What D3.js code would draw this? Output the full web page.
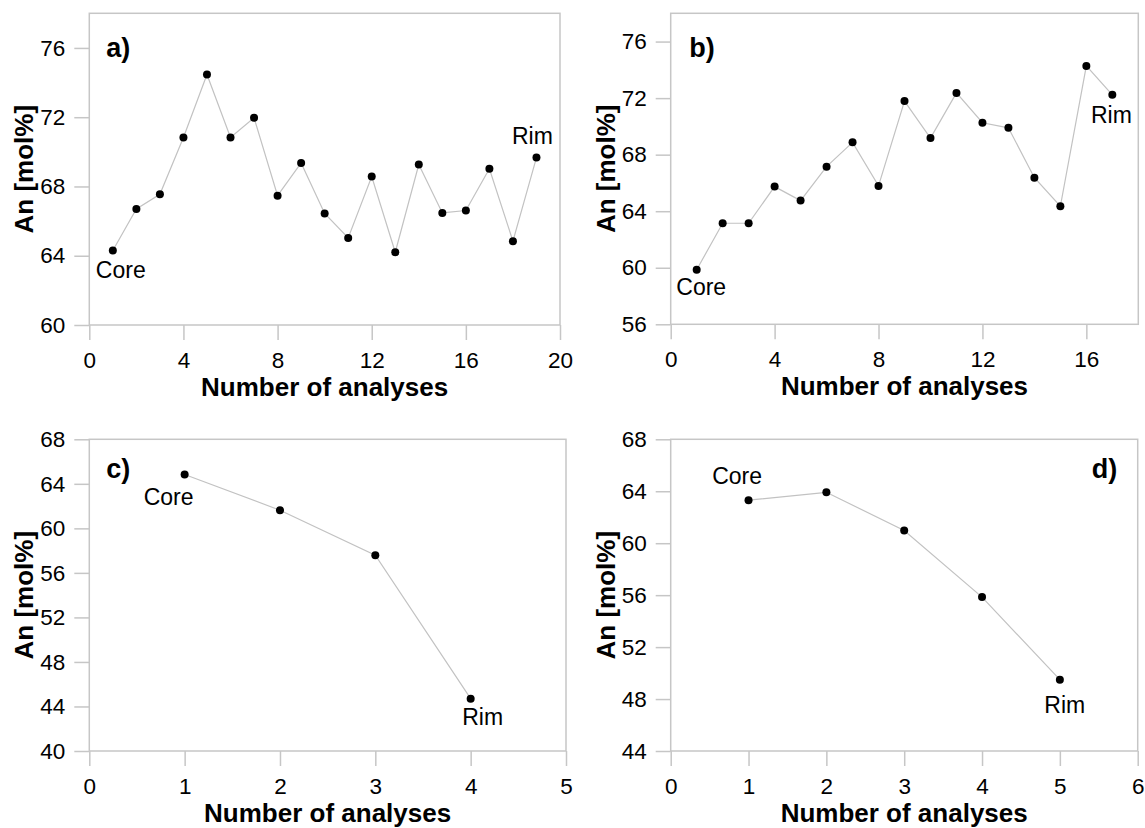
<!DOCTYPE html>
<html>
<head>
<meta charset="utf-8">
<script src="https://cdn.jsdelivr.net/npm/d3@7"></script>
<style>
  body { margin: 0; background: #fff; }
  svg text { font-family: "Liberation Sans", Arial, sans-serif; fill: #000; }
</style>
</head>
<body>
<svg id="chart" width="1145" height="828"></svg>
<script>
// An content (mol%) along each profile, analysis 1 = core, last = rim
var anA = [64.3, 66.7, 67.55, 70.83, 74.47, 70.83, 71.97, 67.47, 69.36, 66.44,
           65.03, 68.57, 64.2, 69.27, 66.47, 66.61, 69.02, 64.84, 69.67];
var anB = [59.86, 63.15, 63.15, 65.74, 64.75, 67.15, 68.87, 65.79, 71.79, 69.17,
           72.37, 70.26, 69.9, 66.37, 64.35, 74.28, 72.23];
var anC = [64.84, 61.63, 57.59, 44.7];
var anD = [63.31, 63.92, 60.98, 55.85, 49.49];

var xTicksA = [0, 4, 8, 12, 16, 20];
var yTicksA = [60, 64, 68, 72, 76];
var xTicksB = [0, 4, 8, 12, 16];
var yTicksB = [56, 60, 64, 68, 72, 76];
var xTicksC = [0, 1, 2, 3, 4, 5];
var yTicksC = [40, 44, 48, 52, 56, 60, 64, 68];
var xTicksD = [0, 1, 2, 3, 4, 5, 6];
var yTicksD = [44, 48, 52, 56, 60, 64, 68];

var panelNames = ["a)", "b)", "c)", "d)"];
var xTitle = "Number of analyses";
var yTitle = "An [mol%]";

var svg = d3.select("#chart");
var grey = "#c6c6c6";
var fmt = d3.format("d");

var panels = [
    { data: anA, xd: [0, 20], yd: [60, 78], xt: xTicksA, yt: yTicksA,
      box: [89.3, 13.3, 560, 325], name: panelNames[0], nameAt: [17, 44],
      core: [-17, 27], rim: [-24.5, -14] },
    { data: anB, xd: [0, 18], yd: [56, 78], xt: xTicksB, yt: yTicksB,
      box: [670.7, 13.3, 1138.3, 324.3], name: panelNames[1], nameAt: [18.5, 44],
      core: [-20.4, 25], rim: [-21.4, 27.7] },
    { data: anC, xd: [0, 5], yd: [40, 68], xt: xTicksC, yt: yTicksC,
      box: [89.3, 439.3, 566, 751], name: panelNames[2], nameAt: [17, 39],
      core: [-41, 30.7], rim: [-8.4, 26.4] },
    { data: anD, xd: [0, 6], yd: [44, 68], xt: xTicksD, yt: yTicksD,
      box: [670.7, 439.3, 1137.7, 751], name: panelNames[3], nameAt: [-46, 39], fromRight: true,
      core: [-36.4, -16], rim: [-15.6, 33.7] }
];

panels.forEach(function (p) {
    var x0 = p.box[0], y0 = p.box[1], x1 = p.box[2], y1 = p.box[3];
    var x = d3.scaleLinear().domain(p.xd).range([x0, x1]);
    var y = d3.scaleLinear().domain(p.yd).range([y1, y0]);
    var g = svg.append("g");

    // y axis
    var ya = g.append("g")
        .attr("transform", "translate(" + x0 + ",0)")
        .call(d3.axisLeft(y).tickValues(p.yt).tickFormat(fmt).tickSize(15).tickPadding(9));
    // x axis
    var xa = g.append("g")
        .attr("transform", "translate(0," + y1 + ")")
        .call(d3.axisBottom(x).tickValues(p.xt).tickFormat(fmt).tickSize(15).tickPadding(12));

    [ya, xa].forEach(function (a) {
        a.select(".domain").remove();
        a.selectAll("line").attr("stroke", grey).attr("stroke-width", 1.5);
        a.selectAll("text").attr("font-size", 22.5).attr("fill", "#000")
            .style("font-family", "'Liberation Sans', Arial, sans-serif");
    });

    // frame
    g.append("rect")
        .attr("x", x0).attr("y", y0)
        .attr("width", x1 - x0).attr("height", y1 - y0)
        .attr("fill", "none")
        .attr("stroke", grey)
        .attr("stroke-width", 1.5);

    var line = d3.line()
        .x(function (d, i) { return x(i + 1); })
        .y(function (d) { return y(d); });

    g.append("path")
        .datum(p.data)
        .attr("d", line)
        .attr("fill", "none")
        .attr("stroke", "#c2c2c2")
        .attr("stroke-width", 1.2);

    g.selectAll("circle")
        .data(p.data)
        .enter().append("circle")
        .attr("cx", function (d, i) { return x(i + 1); })
        .attr("cy", function (d) { return y(d); })
        .attr("r", 4)
        .attr("fill", "#000");

    // core / rim labels
    var n = p.data.length;
    g.append("text")
        .attr("x", x(1) + p.core[0])
        .attr("y", y(p.data[0]) + p.core[1])
        .attr("font-size", 23)
        .text("Core");
    g.append("text")
        .attr("x", x(n) + p.rim[0])
        .attr("y", y(p.data[n - 1]) + p.rim[1])
        .attr("font-size", 23)
        .text("Rim");

    // panel letter
    g.append("text")
        .attr("x", (p.fromRight ? x1 : x0) + p.nameAt[0])
        .attr("y", y0 + p.nameAt[1])
        .attr("font-size", 27)
        .attr("font-weight", "bold")
        .text(p.name);

    // axis titles
    g.append("text")
        .attr("x", (x0 + x1) / 2)
        .attr("y", y1 + 71)
        .attr("text-anchor", "middle")
        .attr("font-size", 26)
        .attr("font-weight", "bold")
        .text(xTitle);
    g.append("text")
        .attr("transform", "translate(" + (x0 - 56) + "," + ((y0 + y1) / 2) + ") rotate(-90)")
        .attr("text-anchor", "middle")
        .attr("font-size", 26)
        .attr("font-weight", "bold")
        .text(yTitle);
});
</script>
</body>
</html>
